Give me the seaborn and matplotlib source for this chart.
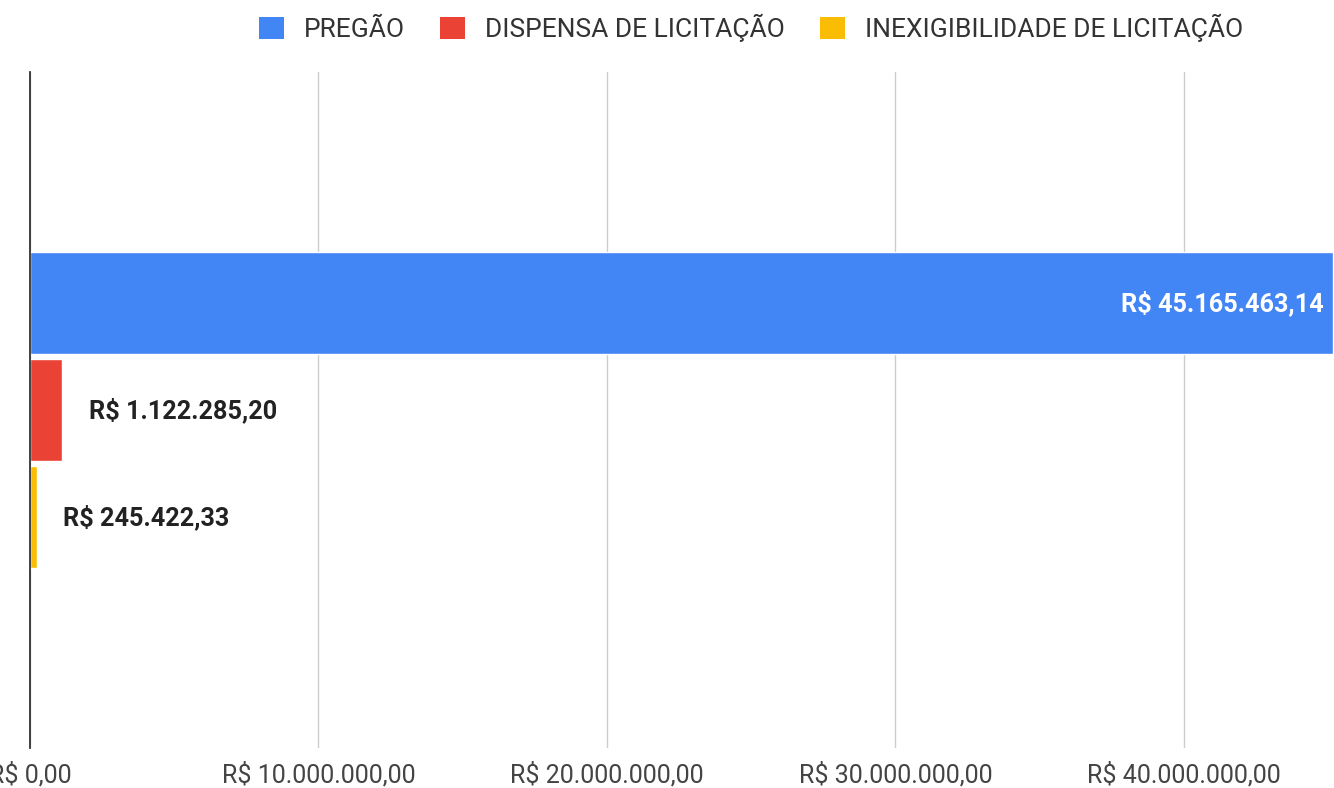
import matplotlib
matplotlib.use("Agg")
import matplotlib.pyplot as plt
from matplotlib.patches import Patch
from matplotlib.ticker import FuncFormatter
import seaborn as sns
import pandas as pd

# Valores contratados por modalidade de licitação
modalidades = ["PREGÃO", "DISPENSA DE LICITAÇÃO", "INEXIGIBILIDADE DE LICITAÇÃO"]
valores = [45165463.14, 1122285.20, 245422.33]
cores = ["#4285F4", "#EA4335", "#FBBC04"]
grupo = ["Total", "Total", "Total"]
ticks_x = [0, 10_000_000, 20_000_000, 30_000_000, 40_000_000]


def brl(v):
    s = f"{v:,.2f}"
    s = s.replace(",", "X").replace(".", ",").replace("X", ".")
    return f"R$ {s}"


sns.set_theme(style="white")
plt.rcParams["font.family"] = ["Roboto", "DejaVu Sans"]

df = pd.DataFrame({"grupo": grupo, "modalidade": modalidades, "valor": valores})

fig = plt.figure(figsize=(13.34, 7.88), dpi=100)
fig.patch.set_facecolor("white")
ax = fig.add_axes([30 / 1334, 40 / 788, 1304 / 1334, 676 / 788])

sns.barplot(
    data=df, y="grupo", x="valor", hue="modalidade", hue_order=modalidades,
    palette=cores, orient="h", width=0.8, gap=0.05, saturation=1,
    legend=False, ax=ax,
)

ax.set_xlim(0, 45.2e6)
ax.set_ylim(0.843, -0.843)
ax.set_xticks(ticks_x)
ax.xaxis.set_major_formatter(FuncFormatter(lambda v, _: brl(v)))
ax.tick_params(axis="x", length=0, pad=10, labelsize=18, labelcolor="#444444")
ax.set_yticks([])
ax.set_xlabel("")
ax.set_ylabel("")
ax.grid(axis="x", color="#cccccc", linewidth=1)
ax.set_axisbelow(True)
for side in ["top", "right", "bottom"]:
    ax.spines[side].set_visible(False)
ax.spines["left"].set_color("#333333")
ax.spines["left"].set_linewidth(1.3)
ax.spines["left"].set_zorder(5)

# rótulos de valor
for i, cont in enumerate(ax.containers):
    for bar, v in zip(cont.patches, [valores[i]]):
        yc = bar.get_y() + bar.get_height() / 2
        if i == 0:
            ax.annotate(brl(v), xy=(v, yc), xytext=(-7, 0), textcoords="offset points",
                        ha="right", va="center", fontsize=18.2, fontweight="bold",
                        color="white")
        else:
            ax.annotate(brl(v), xy=(v, yc), xytext=(19, 0), textcoords="offset points",
                        ha="left", va="center", fontsize=18.2, fontweight="bold",
                        color="#222222")

handles = [Patch(facecolor=c, edgecolor="none") for c in cores]
fig.legend(
    handles, modalidades, loc="center", bbox_to_anchor=(751 / 1334, 1 - 28 / 788),
    ncol=3, frameon=False, fontsize=19, handlelength=0.95, handleheight=0.95,
    handletextpad=0.76, columnspacing=1.33, labelcolor="#333333",
)

fig.savefig("out.png", dpi=100, facecolor="white")
